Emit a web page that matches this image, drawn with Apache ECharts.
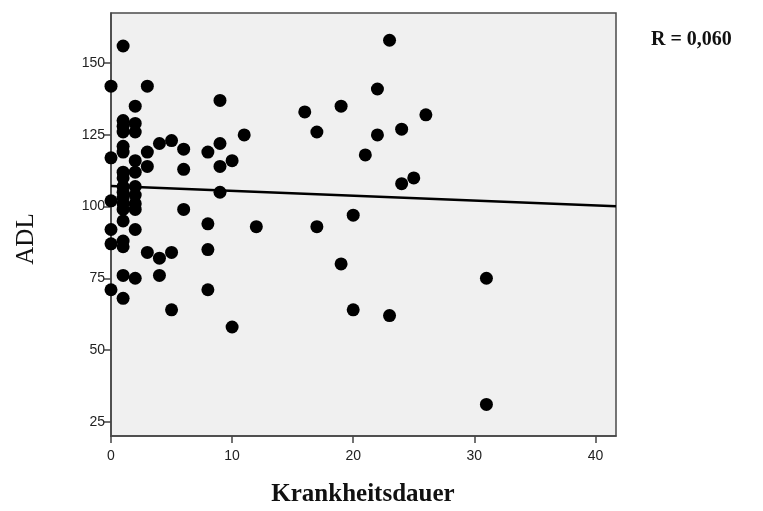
<!DOCTYPE html>
<html><head><meta charset="utf-8">
<script src="https://cdn.jsdelivr.net/npm/echarts@6/dist/echarts.min.js"></script>
<style>html,body{margin:0;padding:0;background:#fff}#c{width:763px;height:511px}</style>
</head><body><div id="c"></div>
<script>
const dauer = [
  0,0,0,0,0,0,
  1,1,1,1,1,1,1,1,1,1,1,1,1,1,1,1,1,1,
  2,2,2,2,2,2,2,2,2,2,2,
  3,3,3,3,
  4,4,4,
  5,5,5,
  6,6,6,
  8,8,8,8,
  9,9,9,9,
  10,10,
  11,12,16,17,17,19,19,20,20,21,22,22,23,23,24,24,25,26,31,31
];
const adl = [
  142,117,102,92,87,71,
  156,130,128,126,121,119,112,110,107,105,103,101,99,95,88,86,76,68,
  135,129,126,116,112,107,104,101,99,92,75,
  142,119,114,84,
  122,82,76,
  123,84,64,
  120,113,99,
  119,94,85,71,
  137,122,114,105,
  116,58,
  125,93,133,126,93,135,80,97,64,118,141,125,158,62,127,108,110,132,75,31
];
const xTicks = [0,10,20,30,40];
const yTicks = [25,50,75,100,125,150];
const fitX = [0, 41.7];
const fitY = [107.2, 100.1];
const rText = 'R = 0,060';
const xTitle = 'Krankheitsdauer';
const yTitle = 'ADL';

const chart = echarts.init(document.getElementById('c'), null, {renderer:'canvas'});
const pts = dauer.map((d,i)=>[d, adl[i]]);
const labelStyle = {color:'#222', fontFamily:'Liberation Sans, Arial, sans-serif', fontSize:14};
chart.setOption({
  animation:false,
  backgroundColor:'#ffffff',
  grid:{left:111, top:13, width:505, height:423, show:true, backgroundColor:'#f0f0f0', borderColor:'#4a4a4a', borderWidth:1.5},
  xAxis:{type:'value', min:0, max:41.7, interval:10,
    axisLine:{show:true, onZero:false, lineStyle:{color:'#444', width:1.5}},
    axisTick:{show:true, length:7, lineStyle:{color:'#444', width:1.5}, customValues:xTicks},
    axisLabel:Object.assign({margin:13, customValues:xTicks}, labelStyle),
    splitLine:{show:false}},
  yAxis:{type:'value', min:20, max:167.5,
    axisLine:{show:true, onZero:false, lineStyle:{color:'#444', width:1.5}},
    axisTick:{show:true, length:7, lineStyle:{color:'#444', width:1.5}, customValues:yTicks},
    axisLabel:Object.assign({margin:6, customValues:yTicks}, labelStyle),
    splitLine:{show:false}},
  series:[
    {type:'scatter', data:pts, symbolSize:13, itemStyle:{color:'#000', opacity:1}, z:3},
    {type:'line', data:fitX.map((x,i)=>[x,fitY[i]]), showSymbol:false, symbol:'none', lineStyle:{color:'#000', width:2.5}, z:4, silent:true}
  ],
  graphic:[
    {type:'text', left:651, top:30, style:{text:rText, font:'bold 20px "Liberation Serif", serif', fill:'#111'}},
    {type:'text', x:363, y:495, style:{text:xTitle, font:'bold 25px "Liberation Serif", serif', fill:'#111', align:'center', verticalAlign:'middle'}},
    {type:'text', x:26, y:239, rotation:Math.PI/2, style:{text:yTitle, font:'25px "Liberation Serif", serif', fill:'#111', align:'center', verticalAlign:'middle'}}
  ]
});
</script>
</body></html>
